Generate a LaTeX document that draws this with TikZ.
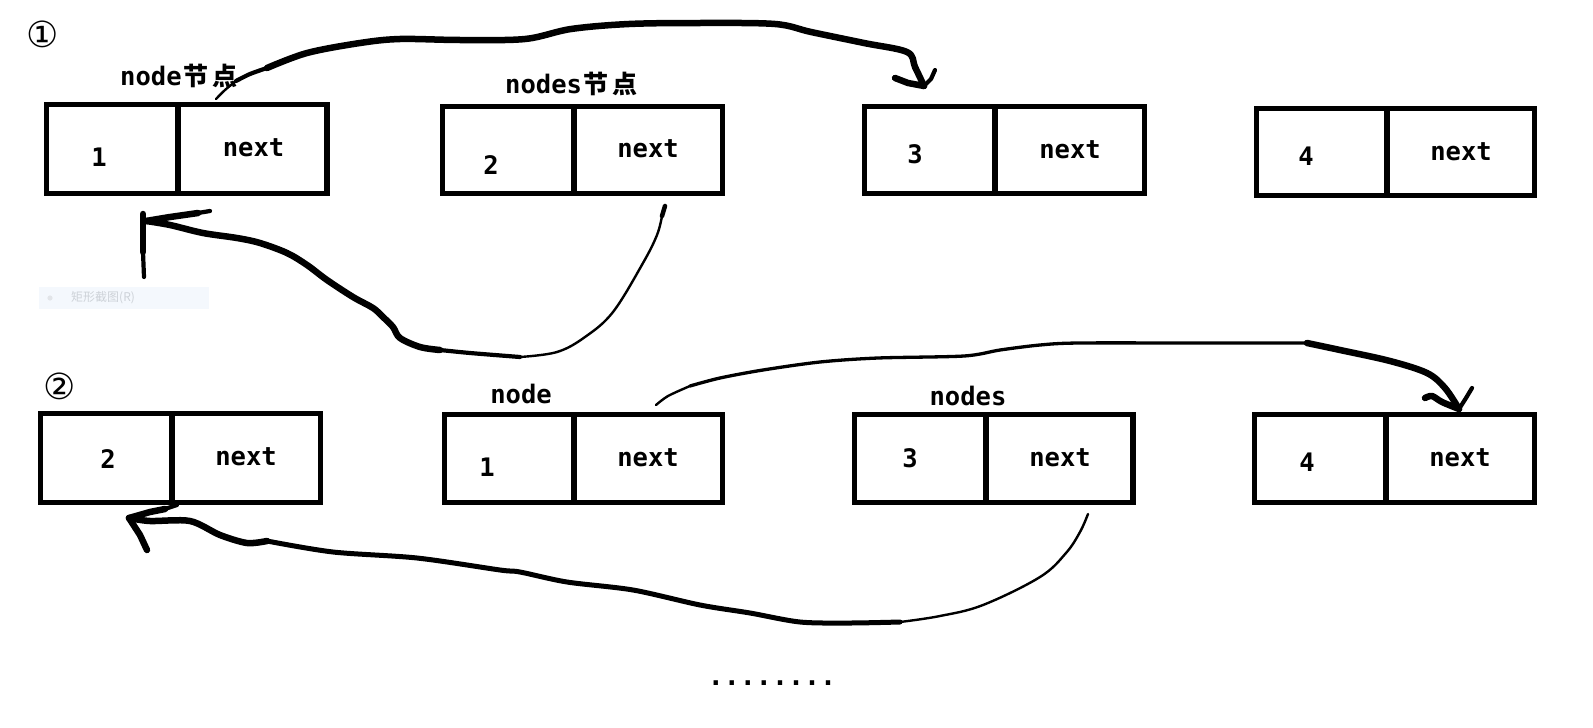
\documentclass[tikz,border=0pt]{standalone}
\usepackage{fontspec}
\newfontfamily\monof{DejaVu Sans Mono}
\newfontfamily\cjkf{Noto Sans CJK SC}
\newfontfamily\symf{DejaVu Sans}
\definecolor{fadebg}{RGB}{244,248,253}
\definecolor{fadetx}{RGB}{205,210,216}
\definecolor{fadedot}{RGB}{226,229,233}
\newcommand\llbox[6]{%
  \node[cell, minimum width={#4-#2}, minimum height={#6-#3}] (#1v) at (#2,#3) {};
  \node[cell, minimum width={#5-#4}, minimum height={#6-#3}] (#1n) at (#4,#3) {};
}
\begin{document}
\begin{tikzpicture}[x=1pt,y=-1pt,
  cell/.style={draw, line width=5.5pt, inner sep=0pt, outer sep=0pt, anchor=north west},
  txt/.style={font=\monof\bfseries\fontsize{25.5}{28}\selectfont, inner sep=0pt, anchor=base},
  lbl/.style={inner sep=0pt, anchor=base},
  circ/.style={font=\symf\fontsize{36}{38}\selectfont, inner sep=0pt},
  thick stroke/.style={line width=6.5pt, line cap=round, line join=round},
  mid stroke/.style={line width=4.2pt, line cap=round, line join=round},
  thin stroke/.style={line width=2.4pt, line cap=round, line join=round},
]
\useasboundingbox (0,0) rectangle (1593,728);

% ---- row 1 boxes
\llbox{b1}{46.5}{104.5}{178}{327}{193.5}
\llbox{b2}{442.5}{106.5}{574}{722.5}{193.5}
\llbox{b3}{864.5}{106.5}{995}{1144.5}{193.5}
\llbox{b4}{1256.5}{108.5}{1387}{1534.5}{195.5}
% ---- row 2 boxes
\llbox{r1}{40.5}{413.5}{172}{320.5}{502.5}
\llbox{r2}{444.5}{414.5}{574}{722.5}{502.5}
\llbox{r3}{854.5}{414.5}{986}{1133}{502.5}
\llbox{r4}{1254.5}{414.5}{1386}{1534.5}{502.5}

% ---- texts row 1
\node[txt] (t11) at (99,166) {1};
\node[txt] (t12) at (253.5,156) {next};
\node[txt] (t21) at (491,174) {2};
\node[txt] (t22) at (648,157) {next};
\node[txt] (t31) at (915,163) {3};
\node[txt] (t32) at (1070,158) {next};
\node[txt] (t41) at (1306,165) {4};
\node[txt] (t42) at (1461,160) {next};
% ---- texts row 2
\node[txt] (u11) at (108,468) {2};
\node[txt] (u12) at (246,465) {next};
\node[txt] (u21) at (487,476) {1};
\node[txt] (u22) at (648,466) {next};
\node[txt] (u31) at (910,467) {3};
\node[txt] (u32) at (1060,466) {next};
\node[txt] (u41) at (1307,471) {4};
\node[txt] (u42) at (1460,466) {next};

% ---- labels
\node[lbl, anchor=base west] (l1) at (120,85) {\monof\bfseries\fontsize{25.5}{28}\selectfont node\cjkf\bfseries\fontsize{25}{28}\selectfont\hspace{2pt}节\hspace{4pt}点};
\node[lbl, anchor=base west] (l2) at (505,93) {\monof\bfseries\fontsize{25.5}{28}\selectfont nodes\cjkf\bfseries\fontsize{25}{28}\selectfont\hspace{2pt}节\hspace{4pt}点};
\node[lbl] (l3) at (521,403) {\monof\bfseries\fontsize{25.5}{28}\selectfont node};
\node[lbl] (l4) at (968,405) {\monof\bfseries\fontsize{25.5}{28}\selectfont nodes};

% ---- circled numbers
\node[circ] (c1) at (43,34) {①};
\node[circ] (c2) at (60,386) {②};

% ---- faint screenshot-menu artefact
\node[fill=fadebg, minimum width=170pt, minimum height=22pt, inner sep=0pt, anchor=north west] (fb) at (39,287) {};
\fill[fadedot] (50,298) circle (2.6pt);
\node[text=fadetx, font=\cjkf\fontsize{12}{14}\selectfont, inner sep=0pt, anchor=west] (ft) at (71,298) {矩形截图(R)};

% ---- dots
\node[font=\monof\bfseries\fontsize{26.6}{28}\selectfont, inner sep=0pt, anchor=base] (dots) at (772,685) {........};

% ---- arrow 1 : node.next -> 3
\coordinate (a1s) at (216,99);
\coordinate (a1e) at (924,86);
\draw[thin stroke] plot[smooth] coordinates {(a1s) (225,90) (236,81)};
\draw[mid stroke] plot[smooth] coordinates {(236,81) (250,74) (267,68)};
\draw[thick stroke] plot[smooth, tension=0.55] coordinates {(267,68) (307,53) (360,43) (400,39) (460,40) (525,39) (571,29) (629,24) (700,23) (775,24) (811,32) (864,43) (907,52) (915,67) (a1e)};
\draw[thick stroke] (895,78) -- (908,83) -- (a1e);
\draw[mid stroke] (a1e) -- (931,79) -- (935,70);

% ---- arrow 2 : nodes.next -> node (back)
\coordinate (a2s) at (665,206);
\coordinate (a2e) at (146,221);
\draw[line width=4.5pt, line cap=round] (a2s) -- (662,216);
\draw[thin stroke] plot[smooth, tension=0.6] coordinates {(662,216) (657,235) (643,263) (613,312) (585,337) (557,352) (520,357)};
\draw[mid stroke] plot[smooth] coordinates {(520,357) (470,353) (440,350)};
\draw[thick stroke] plot[smooth, tension=0.55] coordinates {(440,350) (420,347) (400,338) (393,327) (383,317) (373,308) (353,297) (327,280) (307,265) (287,253) (260,243) (237,238) (203,233) (170,225) (a2e)};
\draw[thick stroke] (a2e) -- (170,217) -- (198,213);
\draw[mid stroke] (198,213) -- (210,211);
\draw[thick stroke] (143,214) -- (143,252);
\draw[mid stroke] (143,252) -- (144,277);

% ---- arrow 3 : node.next -> 4
\coordinate (a3s) at (656,405);
\coordinate (a3e) at (1459,409);
\draw[thin stroke] plot[smooth] coordinates {(a3s) (668,396) (690,386)};
\draw[line width=3.3pt, line cap=round, line join=round] plot[smooth, tension=0.5] coordinates {(690,386) (720,378) (763,370) (820,362) (878,358) (964,356) (1000,350) (1040,345) (1079,343) (1200,343) (1307,343)};
\draw[thick stroke] plot[smooth, tension=0.55] coordinates {(1307,343) (1340,350) (1390,361) (1427,373) (1445,388) (a3e)};
\draw[thick stroke] plot[smooth] coordinates {(1425,398) (1432,396) (1442,402) (a3e)};
\draw[mid stroke] (a3e) -- (1466,398) -- (1472,388);

% ---- arrow 4 : nodes.next -> 2 (back)
\coordinate (a4s) at (1088,514);
\coordinate (a4e) at (129,518);
\draw[thin stroke] plot[smooth, tension=0.6] coordinates {(a4s) (1080,532) (1066,553) (1040,577) (983,605) (940,616) (900,622)};
\draw[line width=5pt, line cap=round, line join=round] plot[smooth, tension=0.5] coordinates {(900,622) (850,623) (800,622) (750,613) (700,605) (633,590) (567,582) (520,572) (500,570) (417,558) (333,552) (267,541)};
\draw[thick stroke] plot[smooth, tension=0.5] coordinates {(267,541) (247,543) (220,535) (190,521) (150,521) (a4e)};
\draw[thick stroke] (a4e) -- (150,512) -- (165,509);
\draw[mid stroke] (165,509) -- (177,505);
\draw[thick stroke] (a4e) -- (140,535) -- (147,550);
\end{tikzpicture}
\end{document}
